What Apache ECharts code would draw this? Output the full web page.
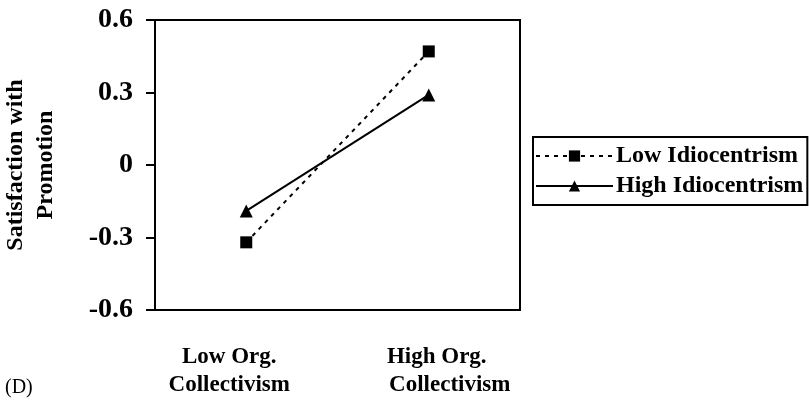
<!DOCTYPE html>
<html>
<head>
<meta charset="utf-8">
<script src="https://cdn.jsdelivr.net/npm/echarts@6/dist/echarts.min.js"></script>
<style>
  html, body { margin: 0; padding: 0; background: #fff; }
  #chart { width: 809px; height: 400px; }
</style>
</head>
<body>
<div id="chart"></div>
<script>
// Interaction of organizational collectivism and idiocentrism
const categories = ['Low Org.\nCollectivism', 'High Org.\nCollectivism'];
const lowIdiocentrism = [-0.32, 0.47];
const highIdiocentrism = [-0.19, 0.29];
const seriesNames = ['Low Idiocentrism', 'High Idiocentrism'];
const yTicks = { min: -0.6, max: 0.6, step: 0.3 };

const serif = '"Liberation Serif", "Times New Roman", serif';
const chart = echarts.init(document.getElementById('chart'));

const catFont = { fontFamily: serif, fontSize: 23, fontWeight: 'bold', color: '#000', lineHeight: 28 };

chart.setOption({
  animation: false,
  backgroundColor: '#fff',
  title: {
    text: '(D)',
    left: 0, top: 373,
    textStyle: { fontFamily: serif, fontSize: 20, fontWeight: 'normal', color: '#000' }
  },
  grid: {
    left: 155, right: 289, top: 20, bottom: 90,
    outerBoundsMode: 'none',
    containLabel: false,
    show: true, borderColor: '#000', borderWidth: 2, backgroundColor: 'transparent'
  },
  legend: {
    orient: 'vertical',
    left: 533, top: 137,
    padding: [7, 4, 7, 2],
    itemWidth: 77, itemHeight: 14, itemGap: 6,
    borderColor: '#000', borderWidth: 2,
    data: seriesNames,
    textStyle: { fontFamily: serif, fontSize: 24, fontWeight: 'bold', color: '#000', padding: [0, 0, 0, -2] }
  },
  xAxis: {
    type: 'category',
    data: [
      { value: categories[0], textStyle: { padding: [0, 34, 0, 0] } },
      { value: categories[1], textStyle: { padding: [0, 0, 0, 42] } }
    ],
    boundaryGap: true,
    axisLine: { onZero: false, lineStyle: { color: '#000', width: 2 } },
    axisTick: { show: false },
    axisLabel: {
      interval: 0,
      hideOverlap: false,
      margin: 33,
      fontFamily: serif, fontSize: 23, fontWeight: 'bold', color: '#000',
      lineHeight: 28,
      formatter: function (v) {
        const parts = v.split('\n');
        return parts[0].startsWith('High')
          ? '{a|' + parts[0] + '}\n{b|' + parts[1] + '}'
          : '{b|' + parts[0] + '}\n{b|' + parts[1] + '}';
      },
      rich: {
        a: Object.assign({}, catFont, { padding: [0, 26, 0, 0] }),
        b: catFont
      }
    }
  },
  yAxis: {
    type: 'value',
    min: yTicks.min, max: yTicks.max, interval: yTicks.step,
    name: 'Satisfaction with\nPromotion',
    nameLocation: 'middle',
    nameRotate: 90,
    nameGap: 94,
    nameTextStyle: { fontFamily: serif, fontSize: 24, fontWeight: 'bold', color: '#000', lineHeight: 30 },
    axisLine: { show: true, lineStyle: { color: '#000', width: 2 } },
    axisTick: { show: true, length: 9, lineStyle: { color: '#000', width: 2 } },
    splitLine: { show: false },
    axisLabel: {
      margin: 22,
      fontFamily: serif, fontSize: 28, fontWeight: 'bold', color: '#000',
      formatter: function (v) { return String(Math.round(v * 10) / 10); }
    }
  },
  series: [
    {
      name: seriesNames[0],
      type: 'line',
      data: lowIdiocentrism,
      symbol: 'rect', symbolSize: 12,
      itemStyle: { color: '#000' },
      lineStyle: { color: '#000', width: 2, type: [4, 5] }
    },
    {
      name: seriesNames[1],
      type: 'line',
      data: highIdiocentrism,
      symbol: 'triangle', symbolSize: 13,
      itemStyle: { color: '#000' },
      lineStyle: { color: '#000', width: 2, type: 'solid' }
    }
  ]
});
</script>
</body>
</html>
